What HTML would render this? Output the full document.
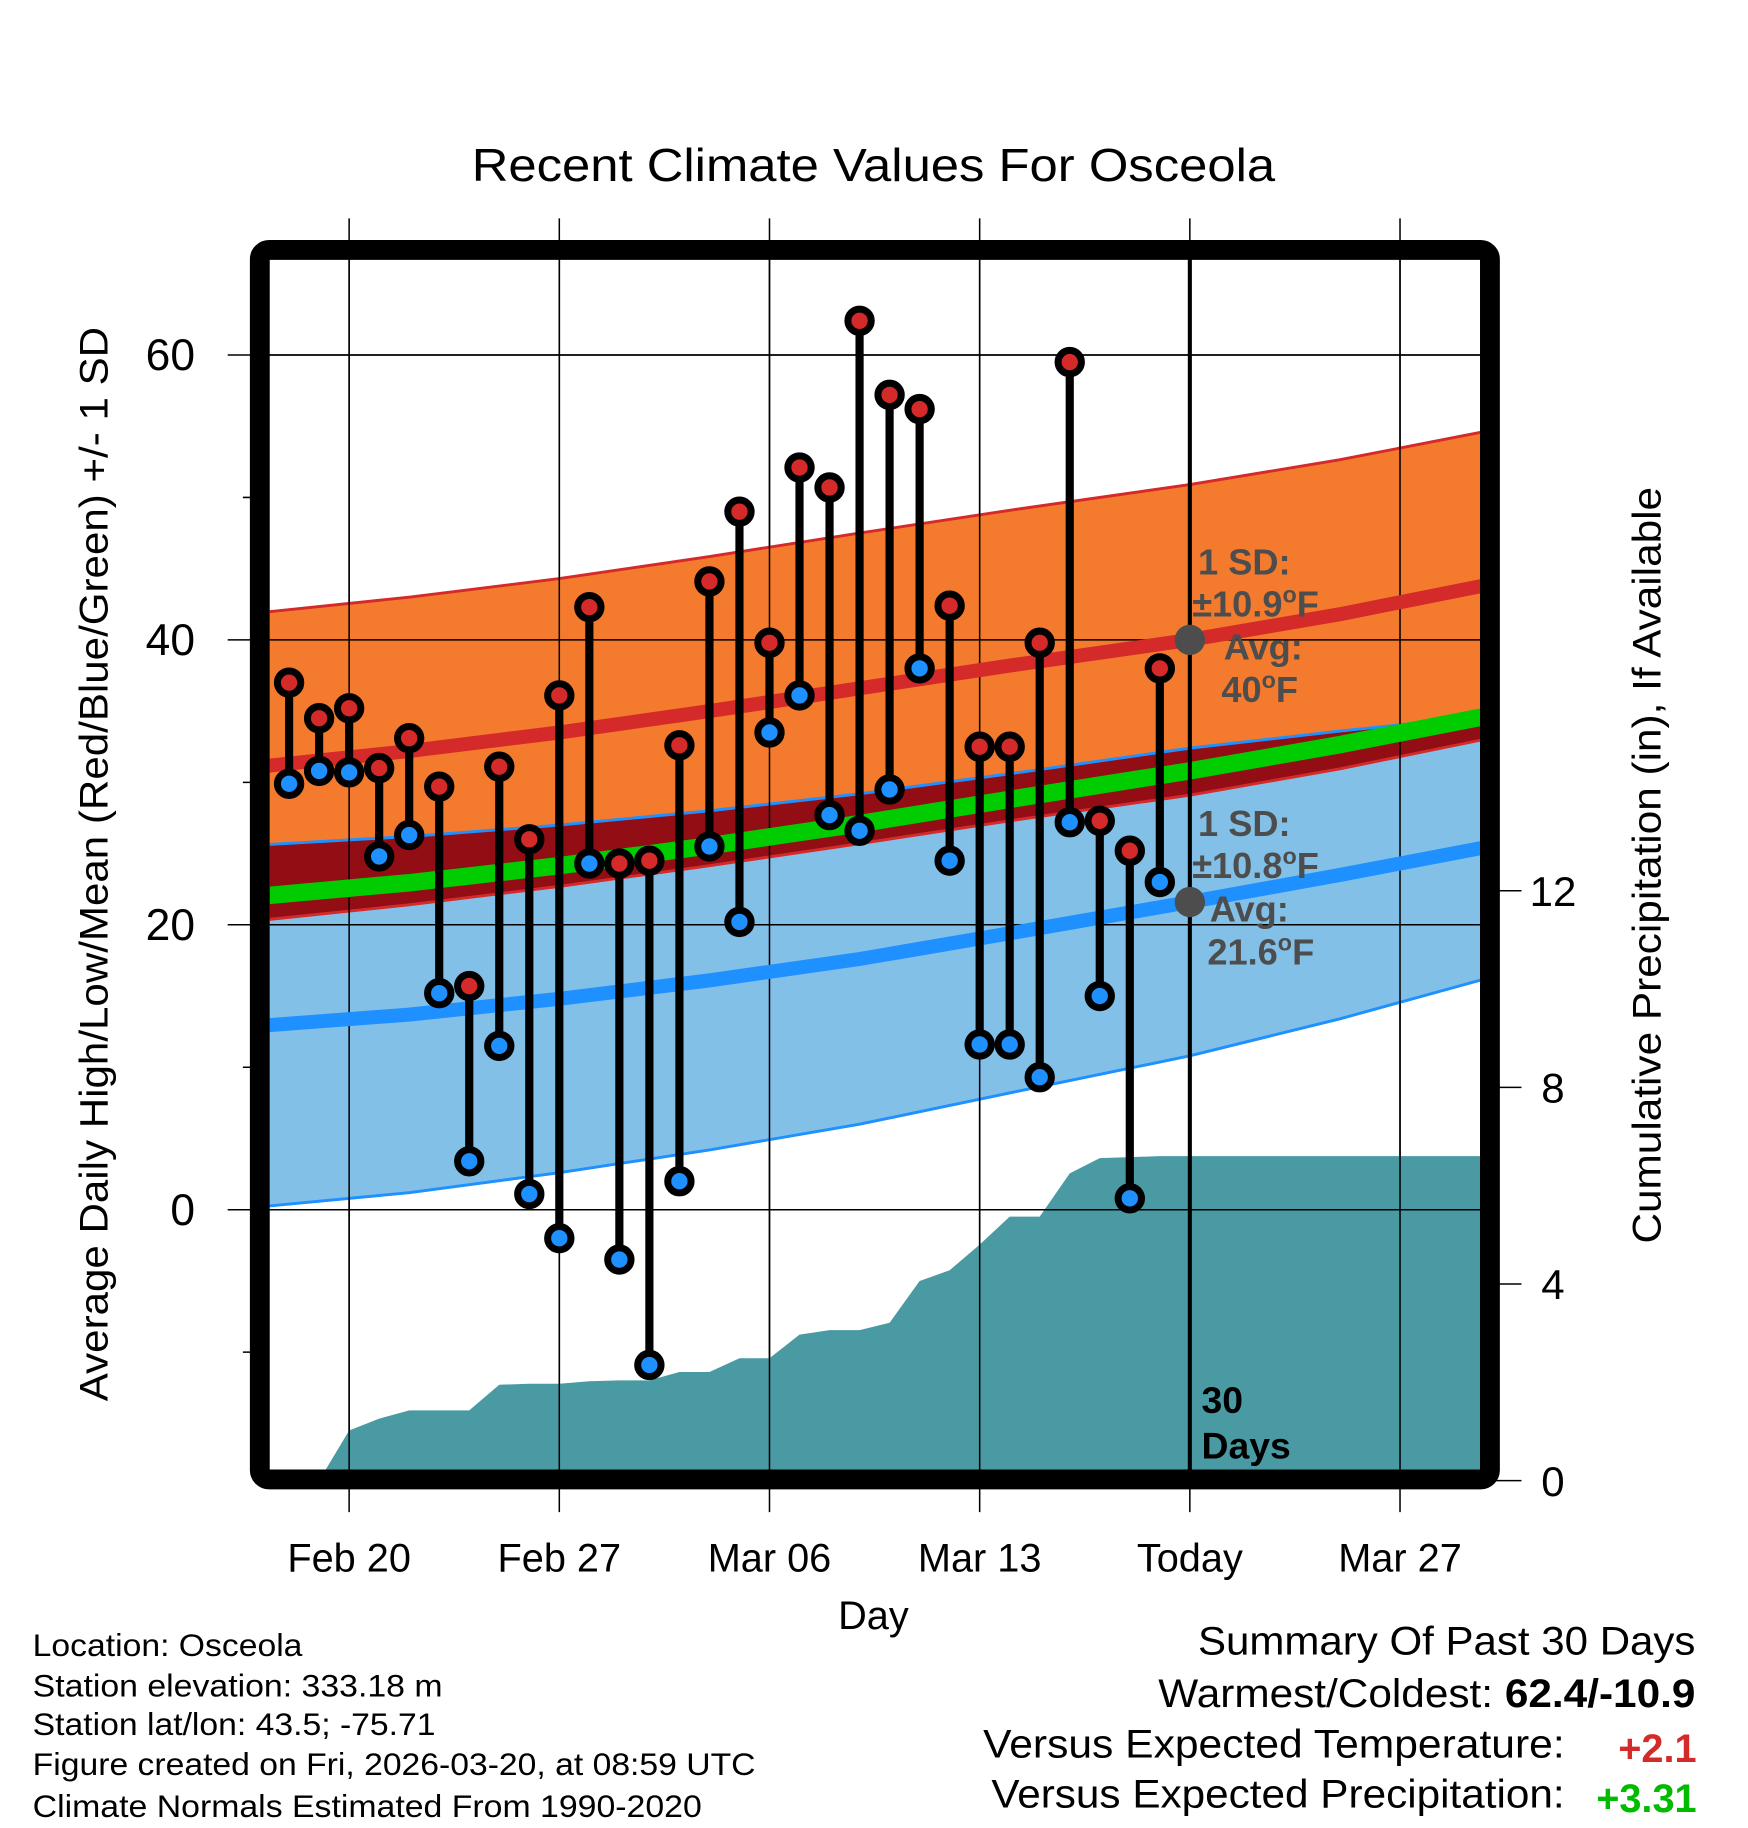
<!DOCTYPE html>
<html><head><meta charset="utf-8"><style>
html,body{margin:0;padding:0;background:#fff;}
svg{display:block;font-family:"Liberation Sans",Arial,sans-serif;}
</style></head><body>
<svg id="chart" xmlns="http://www.w3.org/2000/svg" width="1748" height="1828" viewBox="0 0 1497 1565.5">
<defs>
<clipPath id="plotclip"><rect x="231" y="222" width="1037" height="1037"/></clipPath>
</defs>
<text x="748" y="155" font-size="40" text-anchor="middle" textLength="688" lengthAdjust="spacingAndGlyphs">Recent Climate Values For Osceola</text>
<g id="grid"></g>
<g id="plot" clip-path="url(#plotclip)"></g>
<g id="axes"></g>
<rect x="222.5" y="214" width="1053.5" height="1053" rx="8" fill="none" stroke="#000" stroke-width="17"/>
<text transform="translate(92,740) rotate(-90)" font-size="34" text-anchor="middle" textLength="920" lengthAdjust="spacingAndGlyphs">Average Daily High/Low/Mean (Red/Blue/Green) +/- 1 SD</text>
<text transform="translate(1422,741) rotate(-90)" font-size="34" text-anchor="middle" textLength="648" lengthAdjust="spacingAndGlyphs">Cumulative Precipitation (in), If Available</text>
<text x="748" y="1395" font-size="34" text-anchor="middle">Day</text>
<g font-size="27">
<text x="28" y="1418" textLength="231" lengthAdjust="spacingAndGlyphs">Location: Osceola</text>
<text x="28" y="1453" textLength="351" lengthAdjust="spacingAndGlyphs">Station elevation: 333.18 m</text>
<text x="28" y="1486" textLength="345" lengthAdjust="spacingAndGlyphs">Station lat/lon: 43.5; -75.71</text>
<text x="28" y="1520" textLength="619" lengthAdjust="spacingAndGlyphs">Figure created on Fri, 2026-03-20, at 08:59 UTC</text>
<text x="28" y="1556" textLength="573" lengthAdjust="spacingAndGlyphs">Climate Normals Estimated From 1990-2020</text>
</g>
<g font-size="34" text-anchor="end">
<text x="1452" y="1417" textLength="426" lengthAdjust="spacingAndGlyphs">Summary Of Past 30 Days</text>
<text x="1452" y="1462" textLength="460" lengthAdjust="spacingAndGlyphs">Warmest/Coldest: <tspan font-weight="bold">62.4/-10.9</tspan></text>
<text x="1340" y="1505" textLength="498" lengthAdjust="spacingAndGlyphs">Versus Expected Temperature:</text>
<text x="1453" y="1509" fill="#d42a2a" font-weight="bold">+2.1</text>
<text x="1340" y="1548" textLength="491" lengthAdjust="spacingAndGlyphs">Versus Expected Precipitation:</text>
<text x="1453" y="1552" fill="#00bb00" font-weight="bold">+3.31</text>
</g>
</svg>
<script>
// ---- data ----
const dayIdx = [-2,-1,0,1,2,3,4,5,6,7,8,9,10,11,12,13,14,15,16,17,18,19,20,21,22,23,24,25,26,27];
const highs = [37.0,34.5,35.2,31.0,33.1,29.7,15.7,31.1,26.0,36.1,42.3,24.3,24.5,32.6,44.1,49.0,39.8,52.1,50.7,62.4,57.2,56.2,42.4,32.5,32.5,39.8,59.5,27.3,25.2,38.0];
const lows = [29.9,30.8,30.7,24.8,26.3,15.2,3.4,11.5,1.1,-2.0,24.3,-3.5,-10.9,2.0,25.5,20.2,33.5,36.1,27.7,26.6,29.5,38.0,24.5,11.6,11.6,9.3,27.2,15.0,0.8,23.0];
const precip = [0,0,1.02,1.26,1.43,1.43,1.43,1.95,1.97,1.97,2.02,2.04,2.04,2.21,2.21,2.49,2.49,2.97,3.06,3.06,3.21,4.06,4.28,4.80,5.37,5.37,6.25,6.56,6.58,6.60];
const normDays = [-3,2,7,12,17,22,28,33,38];
const highMean = [31.1,32.2,33.5,35.0,36.6,38.2,40.0,41.8,43.9];
const highSD = [10.8,10.8,10.8,10.85,10.9,10.9,10.9,10.85,10.8];
const lowMean = [12.9,13.7,14.8,16.1,17.6,19.4,21.6,23.5,25.5];
const lowSD = [12.7,12.5,12.2,11.9,11.6,11.2,10.8,10.1,9.2];
const xTickDays = [0,7,14,21,28,35];
const xTickLabels = ["Feb 20","Feb 27","Mar 06","Mar 13","Today","Mar 27"];
const yTicks = [0,20,40,60];
const yMinor = [-10,10,30,50];
const y2Ticks = [0,4,8,12];
const todayDay = 28;

// ---- scales ----
const X = d => 299 + d*25.714;
const Y = t => 1036 - t*12.2;
const YP = p => 1268 - p*42.1;
const NS = "http://www.w3.org/2000/svg";
function mk(tag, attrs, parent){const e=document.createElementNS(NS,tag);for(const k in attrs)e.setAttribute(k,attrs[k]);parent.appendChild(e);return e;}
const plot=document.getElementById('plot'), grid=document.getElementById('grid'), axes=document.getElementById('axes');

const pts = (arr)=>normDays.map((d,i)=>X(d).toFixed(1)+','+Y(arr[i]).toFixed(1));
const hiU=highMean.map((m,i)=>m+highSD[i]), hiL=highMean.map((m,i)=>m-highSD[i]);
const loU=lowMean.map((m,i)=>m+lowSD[i]), loL=lowMean.map((m,i)=>m-lowSD[i]);
const mean=highMean.map((m,i)=>(m+lowMean[i])/2);
const band=(u,l)=>pts(u).concat(pts(l).reverse()).join(' ');

let e;
e=mk('polygon',{points:band(hiU,hiL),fill:'#f47a2e'},plot);


e=mk('polygon',{points:band(loU,loL),fill:'#82c0e8'},plot);


const cp=mk('clipPath',{id:'loclip'},document.querySelector('defs'));
mk('polygon',{points:band(loU,loL)},cp);
e=mk('polygon',{points:band(hiU,hiL),fill:'#930d15','clip-path':'url(#loclip)'},plot);



// precipitation
const pp=[X(dayIdx[0])+','+YP(0)];
dayIdx.forEach((d,i)=>pp.push(X(d)+','+YP(precip[i])));
pp.push('1280,'+YP(precip[precip.length-1]));
pp.push('1280,'+YP(0));
e=mk('polygon',{points:pp.join(' '),fill:'#4a9aa4'},plot);



// edges
[[hiU,'#d42a2a','high-upper-edge'],[hiL,'#d42a2a','high-lower-edge'],[loU,'#1e90ff','low-upper-edge'],[loL,'#1e90ff','low-lower-edge']].forEach(a=>{
 e=mk('polyline',{points:pts(a[0]).join(' '),fill:'none',stroke:a[1],'stroke-width':2.5},plot);
 
 
});

// grid lines
xTickDays.forEach(d=>{
 e=mk('line',{x1:X(d),x2:X(d),y1:187,y2:1295,stroke:'#000','stroke-width':1.3},grid);
 
 
 e=mk('line',{x1:X(d),x2:X(d),y1:222,y2:1259,stroke:'#000','stroke-width':1.3},plot);
 
 
});
yTicks.forEach(t=>{
 e=mk('line',{x1:195,x2:1268,y1:Y(t),y2:Y(t),stroke:'#000','stroke-width':1.3},grid);
 
 
 e=mk('line',{x1:231,x2:1268,y1:Y(t),y2:Y(t),stroke:'#000','stroke-width':1.3},plot);
 
 
});

// mean lines
[[highMean,'#d42a2a',12,'high-mean-line'],[lowMean,'#1e90ff',12,'low-mean-line'],[mean,'#00cc00',15,'mean-line']].forEach(a=>{
 e=mk('polyline',{points:pts(a[0]).join(' '),fill:'none',stroke:a[1],'stroke-width':a[2]},plot);
 
 
});

// today line
e=mk('line',{x1:X(todayDay),x2:X(todayDay),y1:222,y2:1259,stroke:'#000','stroke-width':3.5},plot);



// stems & dots
dayIdx.forEach((d,i)=>{
 e=mk('line',{x1:X(d),x2:X(d),y1:Y(highs[i]),y2:Y(lows[i]),stroke:'#000','stroke-width':7},plot);
 
 
});
dayIdx.forEach((d,i)=>{
 e=mk('circle',{cx:X(d),cy:Y(highs[i]),r:10,fill:'#d42a2a',stroke:'#000','stroke-width':6},plot);
 
 
 e=mk('circle',{cx:X(d),cy:Y(lows[i]),r:10,fill:'#1e90ff',stroke:'#000','stroke-width':6},plot);
 
 
});

// today average markers
const tHi=highMean[normDays.indexOf(todayDay)], tLo=lowMean[normDays.indexOf(todayDay)];
e=mk('circle',{cx:X(todayDay),cy:Y(tHi),r:13,fill:'#4d4d4d'},plot);


e=mk('circle',{cx:X(todayDay),cy:Y(tLo),r:13,fill:'#4d4d4d'},plot);



// annotations [x, y, text, superscript-o?, tail]
const ann=[[1026,492,'1 SD:','',''],[1021,528,'±10.9','o','F'],[1048,565,'Avg:','',''],[1046,601,'40','o','F'],[1026,716,'1 SD:','',''],[1021,752,'±10.8','o','F'],[1036,789,'Avg:','',''],[1034,826,'21.6','o','F']];
ann.forEach(a=>{
 e=mk('text',{x:a[0],y:a[1],'font-size':31,'font-weight':'bold',fill:'#4d4d4d'},plot);
 
 
 e.appendChild(document.createTextNode(a[2]));
 if(a[3]){
  const s=mk('tspan',{dy:-12,'font-size':20},e); s.textContent=a[3];
  const t=mk('tspan',{dy:12},e); t.textContent=a[4];
 }
});
e=mk('text',{x:1029,y:1210,'font-size':32,'font-weight':'bold',fill:'#000'},plot);
e.textContent='30';


e=mk('text',{x:1029,y:1249,'font-size':32,'font-weight':'bold',fill:'#000'},plot);
e.textContent='Days';



// axes ticks & labels
yTicks.forEach(t=>{
 e=mk('text',{x:167,y:Y(t)+13,'font-size':38,'text-anchor':'end'},axes);
 e.textContent=String(t);
 
 
});
yMinor.forEach(t=>{
 e=mk('line',{x1:208,x2:222,y1:Y(t),y2:Y(t),stroke:'#000','stroke-width':1.3},axes);
 
 
});
y2Ticks.forEach(p=>{
 e=mk('line',{x1:1276,x2:1303,y1:YP(p),y2:YP(p),stroke:'#000','stroke-width':1.3},axes);
 
 
 e=mk('text',{x:1330,y:YP(p)+13,'font-size':36,'text-anchor':'middle'},axes);
 e.textContent=String(p);
 
 
});
xTickDays.forEach((d,i)=>{
 e=mk('text',{x:X(d),y:1346,'font-size':34,'text-anchor':'middle'},axes);
 e.textContent=xTickLabels[i];
 
 
});
</script>
</body></html>
